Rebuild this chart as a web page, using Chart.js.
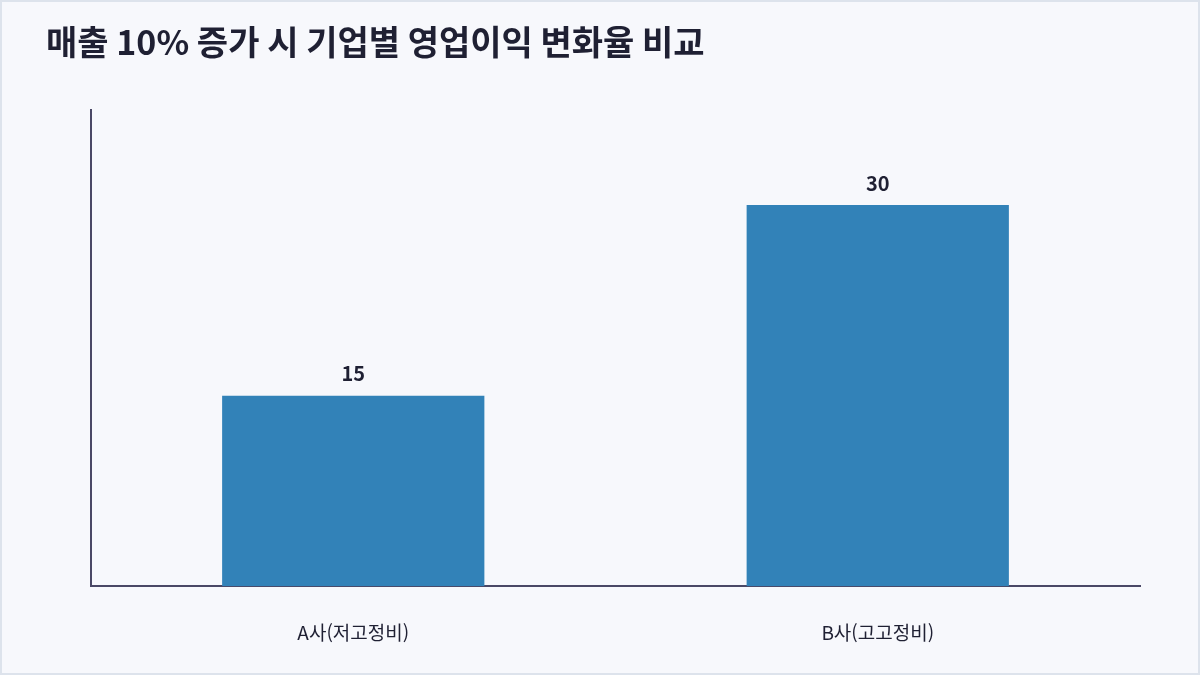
<!DOCTYPE html>
<html lang="ko">
<head>
<meta charset="utf-8">
<script src="https://cdn.jsdelivr.net/npm/chart.js@4/dist/chart.umd.min.js"></script>
<style>
  html, body { margin: 0; padding: 0; background: #f7f8fc; }
  .frame {
    width: 1200px; height: 675px; box-sizing: border-box;
    border: 2px solid #dde3ec; background: #f7f8fc; position: relative;
  }
  .frame canvas { position: absolute; left: 0; top: 0; }
</style>
</head>
<body>
<div class="frame">
  <canvas id="profitChart" width="1196" height="671"></canvas>
</div>
<script type="text/javascript">
  var labels = ["A사(저고정비)", "B사(고고정비)"];
  var profitChange = [15, 30];
  var axisMax = 37.5;

  // draws the value above each bar
  var valueLabels = {
    id: "valueLabels",
    afterDatasetsDraw: function (chart) {
      var ctx = chart.ctx;
      var meta = chart.getDatasetMeta(0);
      ctx.save();
      ctx.font = "bold 20px 'Noto Sans CJK KR', 'Noto Sans', sans-serif";
      ctx.fillStyle = "#1f2033";
      ctx.textAlign = "center";
      ctx.textBaseline = "bottom";
      meta.data.forEach(function (bar, i) {
        ctx.fillText(String(profitChange[i]), bar.x, bar.y - 12);
      });
      ctx.restore();
    }
  };

  Chart.defaults.font.family = "'Noto Sans CJK KR', 'Noto Sans', sans-serif";

  var chart = new Chart("profitChart", {
    type: "bar",
    data: {
      labels: labels,
      datasets: [{
        label: "영업이익 변화율",
        data: profitChange,
        backgroundColor: "#3282b8",
        borderWidth: 0,
        barPercentage: 0.5,
        categoryPercentage: 1.0
      }]
    },
    options: {
      responsive: false,
      animation: false,
      layout: { padding: { top: 20, left: 44, right: 58, bottom: 2 } },
      plugins: {
        legend: { display: false },
        tooltip: { enabled: false },
        title: {
          display: true,
          text: "매출 10% 증가 시 기업별 영업이익 변화율 비교",
          align: "start",
          color: "#1f2033",
          font: { size: 34, weight: "bold" },
          padding: { top: 0, bottom: 47 }
        }
      },
      scales: {
        x: {
          grid: { display: false },
          border: { display: true, color: "#4a4866", width: 2 },
          ticks: { color: "#1f2033", font: { size: 19 }, padding: 27 }
        },
        y: {
          min: 0,
          max: axisMax,
          grid: { display: false },
          border: { display: true, color: "#4a4866", width: 2 },
          ticks: { display: false },
          afterFit: function (scale) { scale.width = 45; }
        }
      }
    },
    plugins: [valueLabels]
  });
</script>
</body>
</html>
